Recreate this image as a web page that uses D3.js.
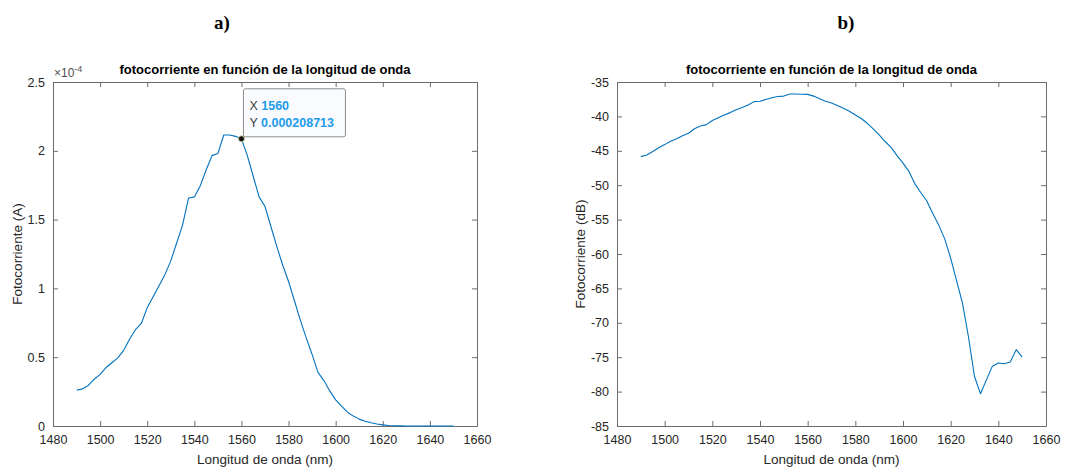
<!DOCTYPE html>
<html>
<head>
<meta charset="utf-8">
<script src="https://cdn.jsdelivr.net/npm/d3@7"></script>
<style>
  body { margin: 0; background: #fff; }
  text { font-family: "Liberation Sans", Arial, sans-serif; }
</style>
</head>
<body>
<div id="chart"></div>
<script>
// wavelength samples (nm)
const longitudes = [
  1490, 1492.5, 1495, 1497.5, 1500, 1502.5, 1505, 1507.5, 1510, 1512.5,
  1515, 1517.5, 1520, 1522.5, 1525, 1527.5, 1530, 1532.5, 1535, 1537.5,
  1540, 1542.5, 1545, 1547.5, 1550, 1552.5, 1555, 1557.5, 1560, 1562.5,
  1565, 1567.5, 1570, 1572.5, 1575, 1577.5, 1580, 1582.5, 1585, 1587.5,
  1590, 1592.5, 1595, 1597.5, 1600, 1602.5, 1605, 1607.5, 1610, 1612.5,
  1615, 1617.5, 1620, 1622.5, 1625, 1627.5, 1630, 1632.5, 1635, 1637.5,
  1640, 1642.5, 1645, 1647.5, 1650
];

// photocurrent (A), panel a
const corriente = [
  0.26e-4, 0.27e-4, 0.295e-4, 0.34e-4, 0.375e-4, 0.425e-4, 0.46e-4, 0.495e-4, 0.55e-4, 0.63e-4,
  0.70e-4, 0.745e-4, 0.86e-4, 0.94e-4, 1.02e-4, 1.10e-4, 1.20e-4, 1.33e-4, 1.46e-4, 1.655e-4,
  1.665e-4, 1.745e-4, 1.86e-4, 1.965e-4, 1.98e-4, 2.115e-4, 2.115e-4, 2.105e-4, 2.08713e-4, 1.965e-4,
  1.815e-4, 1.665e-4, 1.595e-4, 1.45e-4, 1.305e-4, 1.17e-4, 1.05e-4, 0.91e-4, 0.77e-4, 0.64e-4,
  0.52e-4, 0.39e-4, 0.33e-4, 0.255e-4, 0.19e-4, 0.145e-4, 0.10e-4, 0.072e-4, 0.05e-4, 0.035e-4,
  0.024e-4, 0.015e-4, 0.008e-4, 0.004e-4, 0.0019e-4, 0.0006e-4, 0.00017e-4, 0.0001e-4, 0.00015e-4, 0.00023e-4,
  0.00026e-4, 0.00025e-4, 0.00027e-4, 0.0004e-4, 0.00032e-4
];

// photocurrent (dB), panel b
const corrienteDB = [
  -45.85, -45.6, -45.1, -44.55, -44.1, -43.6, -43.25, -42.8, -42.45, -41.8,
  -41.4, -41.2, -40.6, -40.2, -39.8, -39.45, -39.05, -38.7, -38.35, -37.85,
  -37.8, -37.55, -37.3, -37.1, -37.05, -36.75, -36.75, -36.77, -36.8, -37.05,
  -37.45, -37.8, -38.05, -38.4, -38.8, -39.25, -39.8, -40.3, -41.0, -41.8,
  -42.7, -43.65, -44.5, -45.7, -46.8, -48.0, -49.8, -51.1, -52.3, -54.1,
  -55.8, -57.8, -60.6, -63.9, -67.2, -72.1, -77.8, -80.3, -78.3, -76.3,
  -75.85, -75.95, -75.7, -73.9, -75.0
];

const xTicks = [1480, 1500, 1520, 1540, 1560, 1580, 1600, 1620, 1640, 1660];
const yTicksA = [0, 0.5e-4, 1e-4, 1.5e-4, 2e-4, 2.5e-4];
const yTicksDB = [-85, -80, -75, -70, -65, -60, -55, -50, -45, -40, -35];

const tipX = 1560, tipY = 0.000208713;

const width = 1076, height = 468;
const titulo = 'fotocorriente en función de la longitud de onda';

const svg = d3.select('#chart').append('svg')
  .attr('width', width)
  .attr('height', height);

// panel letters
svg.append('text').attr('x', 222).attr('y', 29)
  .attr('text-anchor', 'middle')
  .style('font-family', '"Liberation Serif", "Times New Roman", serif')
  .style('font-weight', 'bold').style('font-size', '19px')
  .text('a)');
svg.append('text').attr('x', 846).attr('y', 29)
  .attr('text-anchor', 'middle')
  .style('font-family', '"Liberation Serif", "Times New Roman", serif')
  .style('font-weight', 'bold').style('font-size', '19px')
  .text('b)');

function drawPanel(opts){
  const left = opts.left, right = opts.right, top = 82, bottom = 426;
  const axisColor = '#6b6b6b', labelColor = '#262626';

  const xScale = d3.scaleLinear().domain([1480, 1660]).range([left, right]);
  const yScale = d3.scaleLinear().domain(opts.yDomain).range([bottom, top]);

  const g = svg.append('g');

  // ----- axes (ticks pointing inward, box on) -----
  const bottomAxis = d3.axisBottom(xScale).tickValues(xTicks)
    .tickSizeInner(-5).tickSizeOuter(0).tickPadding(9).tickFormat(d => String(d));
  const topAxis = d3.axisTop(xScale).tickValues(xTicks)
    .tickSizeInner(-5).tickSizeOuter(0).tickFormat('');
  const leftAxis = d3.axisLeft(yScale).tickValues(opts.yTicks)
    .tickSizeInner(-5).tickSizeOuter(0).tickPadding(8).tickFormat(opts.yFormat);
  const rightAxis = d3.axisRight(yScale).tickValues(opts.yTicks)
    .tickSizeInner(-5).tickSizeOuter(0).tickFormat('');

  const axes = [
    g.append('g').attr('transform', `translate(0,${bottom})`).call(bottomAxis),
    g.append('g').attr('transform', `translate(0,${top})`).call(topAxis),
    g.append('g').attr('transform', `translate(${left},0)`).call(leftAxis),
    g.append('g').attr('transform', `translate(${right},0)`).call(rightAxis)
  ];
  axes.forEach(a => {
    a.selectAll('.domain').attr('stroke', axisColor);
    a.selectAll('.tick line').attr('stroke', axisColor);
    a.selectAll('.tick text')
      .attr('fill', labelColor)
      .style('font-family', '"Liberation Sans", Arial, sans-serif')
      .style('font-size', '12.5px');
  });

  // ----- the curve -----
  const line = d3.line()
    .x((d, i) => xScale(longitudes[i]))
    .y(d => yScale(d));

  g.append('path')
    .datum(opts.values)
    .attr('fill', 'none')
    .attr('stroke', '#0072BD')
    .attr('stroke-width', 1.1)
    .attr('stroke-linejoin', 'round')
    .attr('d', line);

  // ----- labels -----
  g.append('text')
    .attr('x', (left + right) / 2).attr('y', 74)
    .attr('text-anchor', 'middle')
    .style('font-size', '13px').style('font-weight', 'bold')
    .attr('fill', '#000')
    .text(titulo);

  g.append('text')
    .attr('x', (left + right) / 2).attr('y', 464)
    .attr('text-anchor', 'middle')
    .style('font-size', '13.5px')
    .attr('fill', labelColor)
    .text('Longitud de onda (nm)');

  const cy = (top + bottom) / 2;
  g.append('text')
    .attr('x', opts.yLabelX).attr('y', cy)
    .attr('text-anchor', 'middle')
    .attr('transform', `rotate(-90, ${opts.yLabelX}, ${cy})`)
    .style('font-size', '13.5px')
    .attr('fill', labelColor)
    .text(opts.yLabel);

  return { xScale, yScale, g };
}

const panelA = drawPanel({
  left: 53, right: 477,
  yDomain: [0, 2.5e-4], yTicks: yTicksA,
  yFormat: d => String(+(d * 1e4).toFixed(2)),
  values: corriente,
  yLabel: 'Fotocorriente (A)', yLabelX: 22
});

const panelB = drawPanel({
  left: 617, right: 1046,
  yDomain: [-85, -35], yTicks: yTicksDB,
  yFormat: d => String(d),
  values: corrienteDB,
  yLabel: 'Fotocorriente (dB)', yLabelX: 585
});

// exponent label of panel a
const expo = svg.append('text').attr('x', 54).attr('y', 77)
  .attr('fill', '#4d4d4d').style('font-size', '12px');
expo.append('tspan').text('×10');
expo.append('tspan').attr('dy', -5).style('font-size', '9px').text('-4');

// ----- data tip -----
const px = panelA.xScale(tipX), py = panelA.yScale(tipY);
const tip = svg.append('g');
tip.append('rect')
  .attr('x', px + 2).attr('y', py - 50)
  .attr('width', 102).attr('height', 48)
  .attr('rx', 2)
  .attr('fill', '#fafbff')
  .attr('stroke', '#8c8c8c')
  .attr('stroke-width', 1);

const t1 = tip.append('text').attr('x', px + 8).attr('y', py - 29).style('font-size', '12.5px');
t1.append('tspan').attr('fill', '#404040').text('X ');
t1.append('tspan').attr('fill', '#1f9bea').style('font-weight', 'bold').text(tipX);
const t2 = tip.append('text').attr('x', px + 8).attr('y', py - 12).style('font-size', '12.5px');
t2.append('tspan').attr('fill', '#404040').text('Y ');
t2.append('tspan').attr('fill', '#1f9bea').style('font-weight', 'bold').text(tipY);

tip.append('circle')
  .attr('cx', px).attr('cy', py).attr('r', 3)
  .attr('fill', '#111')
  .attr('stroke', '#d8d0a0')
  .attr('stroke-width', 0.8);
</script>
</body>
</html>
